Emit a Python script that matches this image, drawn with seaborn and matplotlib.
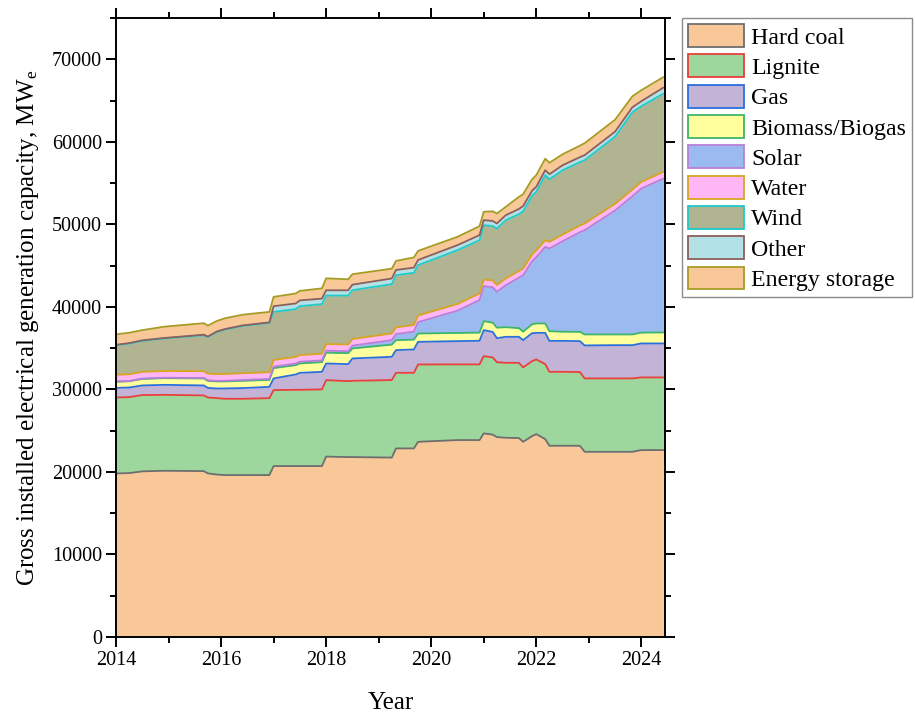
import numpy as np
import matplotlib
matplotlib.use("Agg")
import matplotlib.pyplot as plt
from matplotlib.patches import Patch
from matplotlib.ticker import MultipleLocator
import seaborn as sns

# Gross installed capacity by source, MWe (decimal year of each reading)
years = [2014.00, 2014.25, 2014.50, 2014.92, 2015.67, 2015.75, 2015.92, 2016.08,
         2016.42, 2016.92, 2017.00, 2017.42, 2017.50, 2017.92, 2018.00, 2018.42,
         2018.50, 2019.25, 2019.33, 2019.67, 2019.75, 2020.50, 2020.92, 2021.00,
         2021.17, 2021.25, 2021.42, 2021.67, 2021.75, 2021.92, 2022.00, 2022.17,
         2022.25, 2022.50, 2022.83, 2022.92, 2023.50, 2023.83, 2024.00, 2024.42]

hard_coal = [19820, 19860, 20070, 20140, 20100, 19820, 19680, 19620,
             19620, 19620, 20710, 20710, 20710, 20710, 21860, 21800,
             21800, 21740, 22850, 22850, 23650, 23860, 23860, 24670,
             24520, 24220, 24140, 24100, 23650, 24340, 24580, 23980,
             23170, 23170, 23170, 22440, 22440, 22440, 22650, 22650]
lignite = [9200, 9200, 9240, 9200, 9170, 9200, 9260, 9240,
           9240, 9320, 9200, 9240, 9240, 9290, 9260, 9200,
           9240, 9390, 9160, 9160, 9370, 9170, 9170, 9360,
           9350, 9080, 9080, 9120, 9010, 9080, 9050, 9080,
           8960, 8960, 8930, 8890, 8890, 8890, 8800, 8800]
gas = [1160, 1170, 1170, 1210, 1210, 1160, 1170, 1260,
       1300, 1370, 1420, 1860, 2060, 2130, 2020, 2060,
       2710, 2820, 2750, 2830, 2740, 2820, 2860, 3150,
       3100, 2910, 3150, 3150, 3310, 3390, 3220, 3790,
       3750, 3750, 3750, 4000, 4030, 4030, 4120, 4120]
biomass = [750, 760, 790, 810, 850, 850, 850, 850,
           880, 840, 1250, 1130, 1140, 1170, 1310, 1330,
           1210, 1480, 1210, 1190, 1010, 990, 990, 1090,
           1110, 1270, 1170, 1050, 1030, 1090, 1140, 1140,
           1170, 1110, 1130, 1330, 1300, 1300, 1310, 1330]
solar = [20, 20, 40, 50, 60, 60, 70, 80,
         100, 120, 180, 180, 210, 210, 240, 240,
         340, 540, 730, 970, 1380, 2700, 3940, 4240,
         4300, 4360, 5090, 6120, 6840, 7630, 8030, 9280,
         10020, 10960, 12070, 12630, 15020, 16750, 17460, 18650]
water = [820, 820, 820, 820, 820, 820, 820, 820,
         820, 820, 810, 810, 810, 810, 810, 810,
         810, 810, 810, 810, 810, 810, 810, 810,
         810, 810, 810, 810, 810, 810, 810, 810,
         810, 810, 810, 810, 810, 810, 810, 810]
wind = [3570, 3720, 3750, 3940, 4360, 4440, 5110, 5390,
        5740, 5970, 5820, 5790, 5920, 6010, 5870, 5930,
        5910, 5970, 6330, 6310, 6090, 6520, 6450, 6580,
        6610, 6840, 7060, 6880, 6940, 7120, 7100, 7870,
        7580, 7790, 7670, 7670, 8130, 9360, 9160, 9480]
other = [60, 60, 60, 60, 60, 60, 60, 60,
         60, 60, 690, 690, 690, 670, 640, 640,
         670, 690, 630, 630, 630, 610, 610, 610,
         610, 610, 610, 630, 630, 610, 610, 610,
         610, 610, 610, 610, 610, 610, 610, 730]
storage = [1270, 1250, 1240, 1370, 1390, 1320, 1270, 1310,
           1300, 1270, 1130, 1210, 1160, 1240, 1450, 1330,
           1270, 1190, 1100, 1240, 1100, 1010, 1090, 1010,
           1170, 1210, 1010, 1470, 1430, 1390, 1420, 1390,
           1390, 1330, 1390, 1450, 1450, 1330, 1330, 1280]

labels = ["Hard coal", "Lignite", "Gas", "Biomass/Biogas", "Solar",
          "Water", "Wind", "Other", "Energy storage"]
series = [hard_coal, lignite, gas, biomass, solar, water, wind, other, storage]

fills = ["#F9C899", "#9DD79D", "#C2B3D7", "#FFFF9E", "#9BBAF0",
         "#FFB6F5", "#B0B491", "#B2E1E6", "#F9C899"]
edges = ["#6E6E6E", "#E8403A", "#2B6FDF", "#3DB56B", "#B87FD9",
         "#D9A520", "#1ECACA", "#8C5F5F", "#A59C24"]

sns.set_theme(style="ticks")
plt.rcParams["font.family"] = ["Liberation Serif", "DejaVu Serif"]
plt.rcParams["mathtext.fontset"] = "stix"
plt.rcParams["text.color"] = "black"
plt.rcParams["axes.labelcolor"] = "black"

fig = plt.figure(figsize=(9.15, 7.13), dpi=100)
ax = fig.add_axes([116 / 915, 1 - 637 / 713, (665 - 116) / 915, (637 - 18) / 713])

x = np.array(years)
data = np.array(series, dtype=float)
ax.stackplot(x, data, colors=fills, linewidth=0)

# outline the top of every layer in its own edge colour
cum = np.cumsum(data, axis=0)
for top, col in zip(cum, edges):
    sns.lineplot(x=x, y=top, color=col, linewidth=1.3, ax=ax, legend=False)

ax.set_xlim(2014, 2024.45)
ax.set_ylim(0, 75000)
ax.xaxis.set_major_locator(MultipleLocator(2))
ax.xaxis.set_minor_locator(MultipleLocator(1))
ax.yaxis.set_major_locator(MultipleLocator(10000))
ax.yaxis.set_minor_locator(MultipleLocator(5000))
ax.tick_params(which="both", direction="out", top=True, right=True,
               width=1.4, labelsize=14.5, colors="black")
ax.tick_params(which="major", length=7, pad=3)
ax.tick_params(which="minor", length=4)
for sp in ax.spines.values():
    sp.set_linewidth(1.4)
    sp.set_color("black")

ax.set_xlabel("Year", fontsize=18, labelpad=16, color="black")
ax.set_ylabel("Gross installed electrical generation capacity, MW$_\\mathregular{e}$",
              fontsize=18, labelpad=8, color="black")

handles = [Patch(facecolor=f, edgecolor=e, linewidth=1.3) for f, e in zip(fills, edges)]
leg = fig.legend(handles, labels, loc="upper left",
                 bbox_to_anchor=(682 / 915, 1 - 18 / 713),
                 bbox_transform=fig.transFigure, fontsize=17.2, frameon=True,
                 fancybox=False, borderpad=0.25, labelspacing=0.24,
                 handlelength=2.35, handleheight=1.1, handletextpad=0.3,
                 borderaxespad=0, labelcolor="black")
leg.get_frame().set_edgecolor("#707070")
leg.get_frame().set_linewidth(1.0)

fig.savefig("out.png", dpi=100)
